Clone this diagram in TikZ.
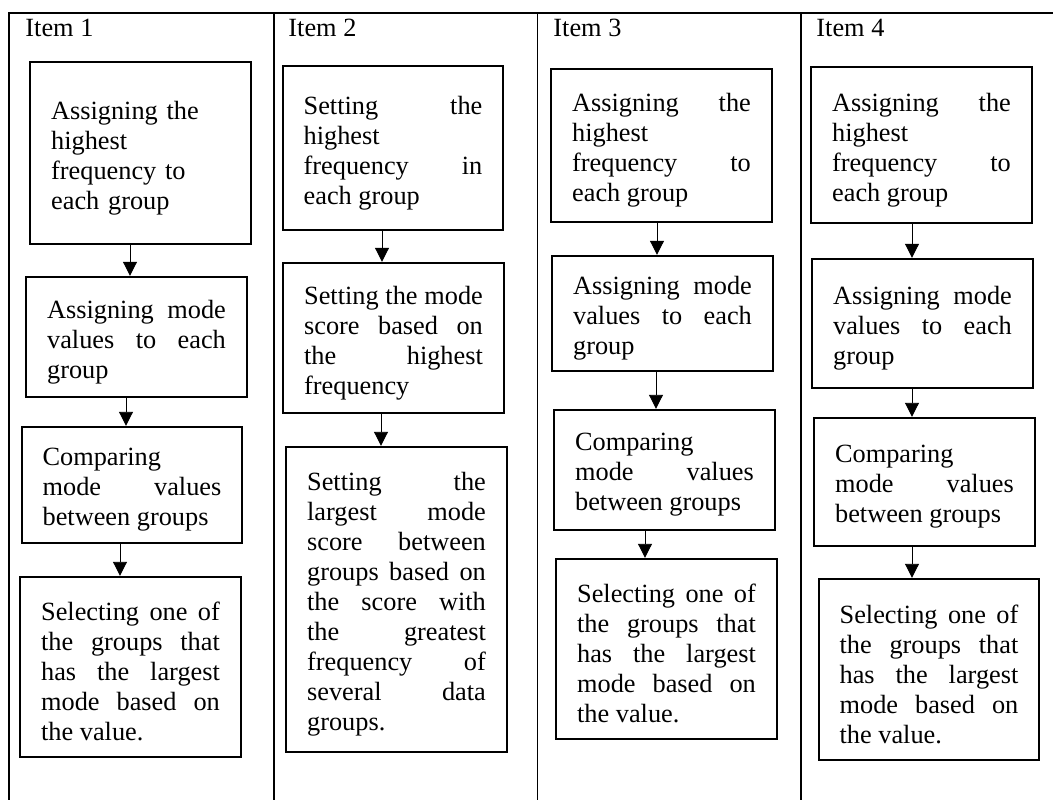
\documentclass[tikz,border=0pt]{standalone}
\usepackage{fontspec}
\setmainfont{Liberation Serif}
\usepackage{tikz}
\usetikzlibrary{positioning,calc,arrows.meta}
\hyphenpenalty=10000
\exhyphenpenalty=10000
\newcommand{\boxtail}{\par\vspace{-4.4pt}}

\begin{document}
\begin{tikzpicture}[x=0.456pt, y=-0.456pt, font=\fontsize{12}{13.7}\selectfont,
    procbox/.style n args={2}{draw, line width=1.1pt, inner sep=0pt, text width=81.5pt, align=justify,
        minimum width=#1*0.456pt, minimum height=#2*0.456pt, execute at end node=\boxtail},
    flow/.style={line width=0.45pt, -{Triangle[length=6.4pt,width=6.4pt]}},
    itemlabel/.style={anchor=base west, inner sep=0pt}]
        \useasboundingbox (0,0) rectangle (1053,800);

        % table frame, open at right and bottom
        \draw[line width=0.75pt] (9,800) -- (9,13) -- (1053,13);
        \foreach \x in {274, 537.5, 801} {
            \draw[line width=0.75pt] (\x,13) -- (\x,800);
        }
        \foreach \i/\x in {1/25, 2/288, 3/553, 4/816} {
            \node[itemlabel] (item\i) at (\x,37) {Item \i};
        }

        % Item 1
        \node[procbox={221}{182}, align=left] (b11) at (140.5,153) {Assigning the\\ highest\\ frequency to\\ each group};
        \node[procbox={221}{120}] (b12) at (136.5,337) {Assigning mode\linebreak values to each\linebreak group};
        \node[procbox={220}{116}] (b13) at (132,485) {Comparing\linebreak mode values\linebreak between groups};
        \node[procbox={221}{180}] (b14) at (130.5,667) {Selecting one of\linebreak the groups that\linebreak has the largest\linebreak mode based on\linebreak the value.};
        \draw[flow] ($(b11.south)+(-10.5,0)$) -- ($(b12.north)+(-6.5,0)$);
        \draw[flow] ($(b12.south)+(-10.5,0)$) -- ($(b13.north)+(-6,0)$);
        \draw[flow] ($(b13.south)+(-12,0)$) -- ($(b14.north)+(-10.5,0)$);

        % Item 2
        \node[procbox={220}{164}] (b21) at (393,148) {Setting the\linebreak highest\linebreak frequency in\linebreak each group};
        \node[procbox={221}{150}] (b22) at (393.5,338) {Setting the mode\linebreak score based on\linebreak the highest\linebreak frequency};
        \node[procbox={221}{305}] (b23) at (396.5,599.5) {Setting the\linebreak largest mode\linebreak score between\linebreak groups based on\linebreak the score with\linebreak the greatest\linebreak frequency of\linebreak several data\linebreak groups.};
        \draw[flow] ($(b21.south)+(-11,0)$) -- ($(b22.north)+(-11.5,0)$);
        \draw[flow] ($(b22.south)+(-12.5,0)$) -- ($(b23.north)+(-15.5,0)$);

        % Item 3
        \node[procbox={221}{153}] (b31) at (661.5,145.5) {Assigning the\linebreak highest\linebreak frequency to\linebreak each group};
        \node[procbox={221}{115}] (b32) at (662.5,313.5) {Assigning mode\linebreak values to each\linebreak group};
        \node[procbox={221}{120}] (b33) at (664.5,470) {Comparing\linebreak mode values\linebreak between groups};
        \node[procbox={221}{180}] (b34) at (666.5,649) {Selecting one of\linebreak the groups that\linebreak has the largest\linebreak mode based on\linebreak the value.};
        \draw[flow] ($(b31.south)+(-4.5,0)$) -- ($(b32.north)+(-5.5,0)$);
        \draw[flow] ($(b32.south)+(-6.5,0)$) -- ($(b33.north)+(-8.5,0)$);
        \draw[flow] ($(b33.south)+(-19.5,0)$) -- ($(b34.north)+(-21.5,0)$);

        % Item 4
        \node[procbox={221}{156}] (b41) at (921.5,145) {Assigning the\linebreak highest\linebreak frequency to\linebreak each group};
        \node[procbox={221}{129}] (b42) at (922.5,323.5) {Assigning mode\linebreak values to each\linebreak group};
        \node[procbox={221}{128}] (b43) at (924.5,482) {Comparing\linebreak mode values\linebreak between groups};
        \node[procbox={220}{181}] (b44) at (929,669.5) {Selecting one of\linebreak the groups that\linebreak has the largest\linebreak mode based on\linebreak the value.};
        \draw[flow] ($(b41.south)+(-9.5,0)$) -- ($(b42.north)+(-10.5,0)$);
        \draw[flow] ($(b42.south)+(-10.5,0)$) -- ($(b43.north)+(-12.5,0)$);
        \draw[flow] ($(b43.south)+(-12.5,0)$) -- ($(b44.north)+(-17,0)$);
    \end{tikzpicture}
\end{document}
